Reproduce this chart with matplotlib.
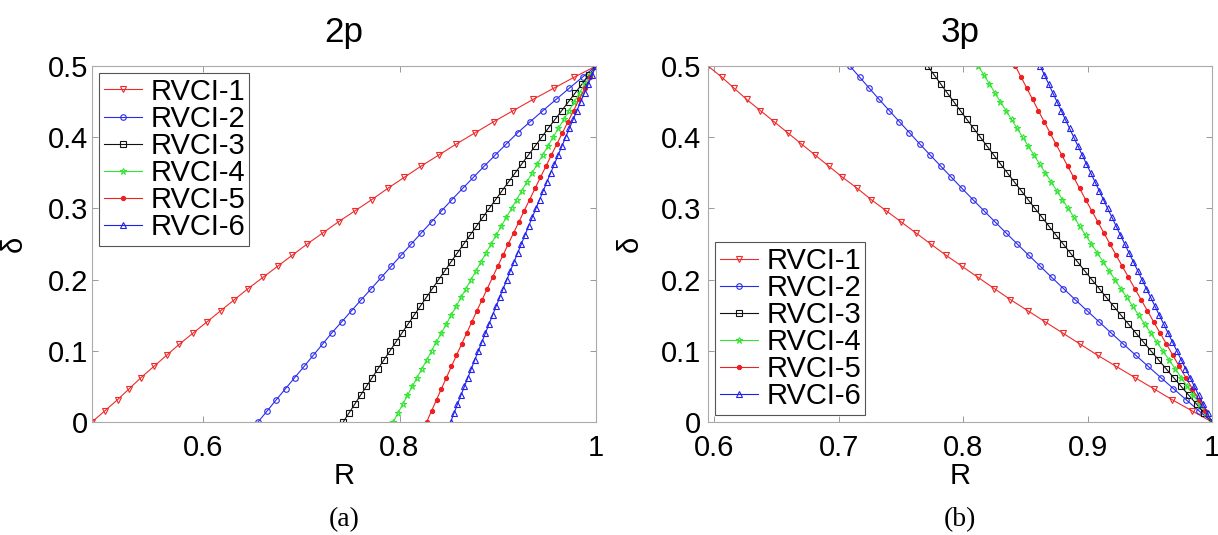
"""
RVCI 曲线对比图 (2p / 3p)
"""
import matplotlib
matplotlib.use("Agg")
import matplotlib.pyplot as plt

# ===================== 全局设置 =====================
plt.rcParams['font.family'] = ['Liberation Sans', 'DejaVu Sans']
plt.rcParams['font.size'] = 21

# ===================== 数据 =====================
# δ 取值 (两种采样密度)
delta33 = [0, 0.0156, 0.0313, 0.0469, 0.0625, 0.0781, 0.0938, 0.1094, 0.125, 0.1406,
           0.1563, 0.1719, 0.1875, 0.2031, 0.2188, 0.2344, 0.25, 0.2656, 0.2813, 0.2969,
           0.3125, 0.3281, 0.3438, 0.3594, 0.375, 0.3906, 0.4063, 0.4219, 0.4375, 0.4531,
           0.4688, 0.4844, 0.5]
delta41 = [0, 0.0125, 0.025, 0.0375, 0.05, 0.0625, 0.075, 0.0875, 0.1, 0.1125,
           0.125, 0.1375, 0.15, 0.1625, 0.175, 0.1875, 0.2, 0.2125, 0.225, 0.2375,
           0.25, 0.2625, 0.275, 0.2875, 0.3, 0.3125, 0.325, 0.3375, 0.35, 0.3625,
           0.375, 0.3875, 0.4, 0.4125, 0.425, 0.4375, 0.45, 0.4625, 0.475, 0.4875, 0.5]

# (a) 2p 的 R 值
r2p_1 = [0.487, 0.500, 0.513, 0.525, 0.537, 0.550, 0.563, 0.576, 0.590, 0.604,
         0.618, 0.632, 0.646, 0.661, 0.676, 0.691, 0.706, 0.722, 0.738, 0.755,
         0.772, 0.788, 0.805, 0.822, 0.840, 0.858, 0.877, 0.896, 0.916, 0.936,
         0.957, 0.978, 1.000]
r2p_2 = [0.656, 0.6653, 0.6746, 0.684, 0.6934, 0.7029, 0.7123, 0.7217, 0.731, 0.7411,
         0.7512, 0.7612, 0.7714, 0.7815, 0.7916, 0.8018, 0.812, 0.8222, 0.8327, 0.843,
         0.8535, 0.8643, 0.8753, 0.8863, 0.8975, 0.9088, 0.9203, 0.9331, 0.9462, 0.9594,
         0.9728, 0.9863, 1.0]
r2p_3 = [0.7427, 0.7485, 0.7544, 0.7603, 0.7663, 0.7723, 0.7782, 0.7843, 0.7903, 0.7964,
         0.8025, 0.8087, 0.8149, 0.8211, 0.8273, 0.8336, 0.8398, 0.8462, 0.8525, 0.8589,
         0.8654, 0.8718, 0.8783, 0.8848, 0.8913, 0.8979, 0.9045, 0.9111, 0.9178, 0.9245,
         0.9312, 0.938, 0.9447, 0.9514, 0.9583, 0.9652, 0.9721, 0.979, 0.986, 0.993, 1.0]
r2p_4 = [0.7936, 0.7984, 0.8033, 0.8081, 0.813, 0.8179, 0.8228, 0.8279, 0.8327, 0.8376,
         0.8426, 0.8476, 0.8526, 0.8576, 0.8627, 0.8677, 0.8728, 0.8779, 0.883, 0.8881,
         0.8933, 0.8984, 0.9036, 0.9088, 0.9141, 0.9193, 0.9245, 0.9298, 0.9351, 0.9404,
         0.9457, 0.9511, 0.9564, 0.9618, 0.9672, 0.9726, 0.978, 0.9834, 0.9889, 0.9944, 1.0]
r2p_5 = [0.8276, 0.8326, 0.8377, 0.8427, 0.8478, 0.8529, 0.858, 0.8632, 0.8684, 0.8736,
         0.8788, 0.8841, 0.8894, 0.8947, 0.9, 0.9054, 0.9107, 0.9161, 0.9216, 0.927,
         0.9325, 0.938, 0.9435, 0.9491, 0.9546, 0.9602, 0.9659, 0.9715, 0.9772, 0.9829,
         0.9886, 0.9943, 1.0]
r2p_6 = [0.852, 0.8555, 0.859, 0.8625, 0.8661, 0.8696, 0.8732, 0.8767, 0.8803, 0.8839,
         0.8875, 0.8911, 0.8947, 0.8983, 0.902, 0.9056, 0.9093, 0.9129, 0.9166, 0.9203,
         0.924, 0.9277, 0.9314, 0.9351, 0.9389, 0.9426, 0.9464, 0.9501, 0.9539, 0.9577,
         0.9615, 0.9653, 0.9691, 0.9729, 0.9768, 0.9806, 0.9845, 0.9883, 0.9922, 0.9961, 1.0]

# (b) 3p 的 R 值
r3p_1 = [1.000, 0.984, 0.968, 0.953, 0.938, 0.923, 0.908, 0.894, 0.880, 0.866,
         0.852, 0.838, 0.825, 0.812, 0.799, 0.786, 0.774, 0.762, 0.750, 0.738,
         0.726, 0.715, 0.703, 0.692, 0.681, 0.670, 0.659, 0.648, 0.637, 0.626,
         0.616, 0.606, 0.595]
r3p_2 = [1.0, 0.9896, 0.9792, 0.969, 0.9588, 0.9487, 0.9387, 0.9288, 0.919, 0.9093,
         0.8996, 0.89, 0.8806, 0.8712, 0.8619, 0.8526, 0.8435, 0.8345, 0.8255, 0.8166,
         0.8078, 0.7991, 0.7905, 0.782, 0.7735, 0.7651, 0.7569, 0.7487, 0.7406, 0.7325,
         0.7246, 0.7168, 0.709]
r3p_3 = [1.0, 0.9938, 0.9876, 0.9814, 0.9752, 0.9691, 0.963, 0.9569, 0.9509, 0.9448,
         0.9388, 0.9329, 0.9269, 0.921, 0.9151, 0.9093, 0.9034, 0.8976, 0.8919, 0.8861,
         0.8804, 0.8747, 0.869, 0.8634, 0.8577, 0.8521, 0.8466, 0.841, 0.8355, 0.83,
         0.8246, 0.8192, 0.8138, 0.8084, 0.803, 0.7977, 0.7924, 0.7871, 0.7819, 0.7767, 0.7715]
r3p_4 = [1.0, 0.995, 0.99, 0.9851, 0.9801, 0.9752, 0.9703, 0.9654, 0.9605, 0.9556,
         0.9508, 0.9459, 0.9411, 0.9363, 0.9315, 0.9267, 0.922, 0.9172, 0.9125, 0.9078,
         0.9031, 0.8984, 0.8937, 0.8891, 0.8844, 0.8798, 0.8752, 0.8706, 0.866, 0.8614,
         0.8569, 0.8524, 0.8478, 0.8433, 0.8389, 0.8344, 0.8299, 0.8255, 0.8211, 0.8166, 0.8123]
r3p_5 = [1.0, 0.9947, 0.9894, 0.9842, 0.9789, 0.9737, 0.9685, 0.9634, 0.9583, 0.9531,
         0.9481, 0.943, 0.9379, 0.9329, 0.9279, 0.9229, 0.918, 0.9131, 0.9082, 0.9033,
         0.8984, 0.8936, 0.8888, 0.884, 0.8793, 0.8745, 0.8698, 0.8651, 0.8604, 0.8558,
         0.8512, 0.8466, 0.842]
r3p_6 = [1.0, 0.9964, 0.9929, 0.9893, 0.9858, 0.9823, 0.9787, 0.9752, 0.9717, 0.9682,
         0.9647, 0.9612, 0.9577, 0.9542, 0.9507, 0.9472, 0.9437, 0.9403, 0.9368, 0.9333,
         0.9299, 0.9264, 0.923, 0.9196, 0.9161, 0.9127, 0.9093, 0.9059, 0.9025, 0.8991,
         0.8957, 0.8923, 0.8889, 0.8855, 0.8821, 0.8788, 0.8754, 0.872, 0.8687, 0.8653, 0.862]

labels = ["RVCI-1", "RVCI-2", "RVCI-3", "RVCI-4", "RVCI-5", "RVCI-6"]
yticks = [0, 0.1, 0.2, 0.3, 0.4, 0.5]
ytick_labels = ["0", "0.1", "0.2", "0.3", "0.4", "0.5"]
xticks_a = [0.6, 0.8, 1.0]
xtick_labels_a = ["0.6", "0.8", "1"]
xticks_b = [0.6, 0.7, 0.8, 0.9, 1.0]
xtick_labels_b = ["0.6", "0.7", "0.8", "0.9", "1"]

# 线型: 颜色 / 标记
styles = [
    dict(color="#ee2a2a", marker="v", ms=5, mfc="none"),
    dict(color="#2a2aee", marker="o", ms=4, mfc="none"),
    dict(color="#111111", marker="s", ms=4, mfc="none"),
    dict(color="#33e633", marker="*", ms=5, mfc="none"),
    dict(color="#ee2020", marker=".", ms=6),
    dict(color="#2020ee", marker="^", ms=4.5, mfc="none"),
]

panels = [
    dict(title="2p", rs=[r2p_1, r2p_2, r2p_3, r2p_4, r2p_5, r2p_6],
         xlim=(0.487, 1.0), xt=xticks_a, xtl=xtick_labels_a, leg="upper left",
         pos=[92 / 1218, 1 - 422 / 535, 504 / 1218, 356 / 535], cap="(a)", ypad=3),
    dict(title="3p", rs=[r3p_1, r3p_2, r3p_3, r3p_4, r3p_5, r3p_6],
         xlim=(0.595, 1.0), xt=xticks_b, xtl=xtick_labels_b, leg="lower left",
         pos=[708 / 1218, 1 - 422 / 535, 504 / 1218, 356 / 535], cap="(b)", ypad=5),
]
deltas = [delta33, delta33, delta41, delta41, delta33, delta41]

# ===================== 绘图 =====================
fig = plt.figure(figsize=(12.18, 5.35), dpi=100)

for p in panels:
    ax = fig.add_axes(p["pos"])
    for r, d, lab, st in zip(p["rs"], deltas, labels, styles):
        ax.plot(r, d, lw=0.8, mew=0.8, label=lab, **st)

    ax.set_xlim(*p["xlim"])
    ax.set_ylim(0, 0.5)
    ax.set_xticks(p["xt"])
    ax.set_xticklabels(p["xtl"])
    ax.set_yticks(yticks)
    ax.set_yticklabels(ytick_labels)
    ax.tick_params(direction="in", top=True, right=True, length=4, width=0.7,
                   color="#999999")
    ax.tick_params(axis="x", pad=9)
    ax.tick_params(axis="y", pad=p["ypad"])
    for sp in ax.spines.values():
        sp.set_color("#aaaaaa")
        sp.set_linewidth(0.8)

    ax.set_title(p["title"], pad=17)
    ax.set_xlabel("R", labelpad=0)
    ax.set_ylabel("δ", labelpad=14 - p["ypad"] + 3)

    leg = ax.legend(loc=p["leg"], fontsize=21, handlelength=1.3, handletextpad=0.3,
                    labelspacing=-0.03, borderpad=0.15, borderaxespad=0.25,
                    fancybox=False, framealpha=1)
    leg.get_frame().set_edgecolor("#555555")
    leg.get_frame().set_linewidth(0.8)

    # 子图编号
    cx = p["pos"][0] + p["pos"][2] / 2
    fig.text(cx, 1 - 520 / 535, p["cap"], ha="center", va="center",
             family="Liberation Serif", fontsize=20)

fig.savefig("out.png", dpi=100)
plt.close()
